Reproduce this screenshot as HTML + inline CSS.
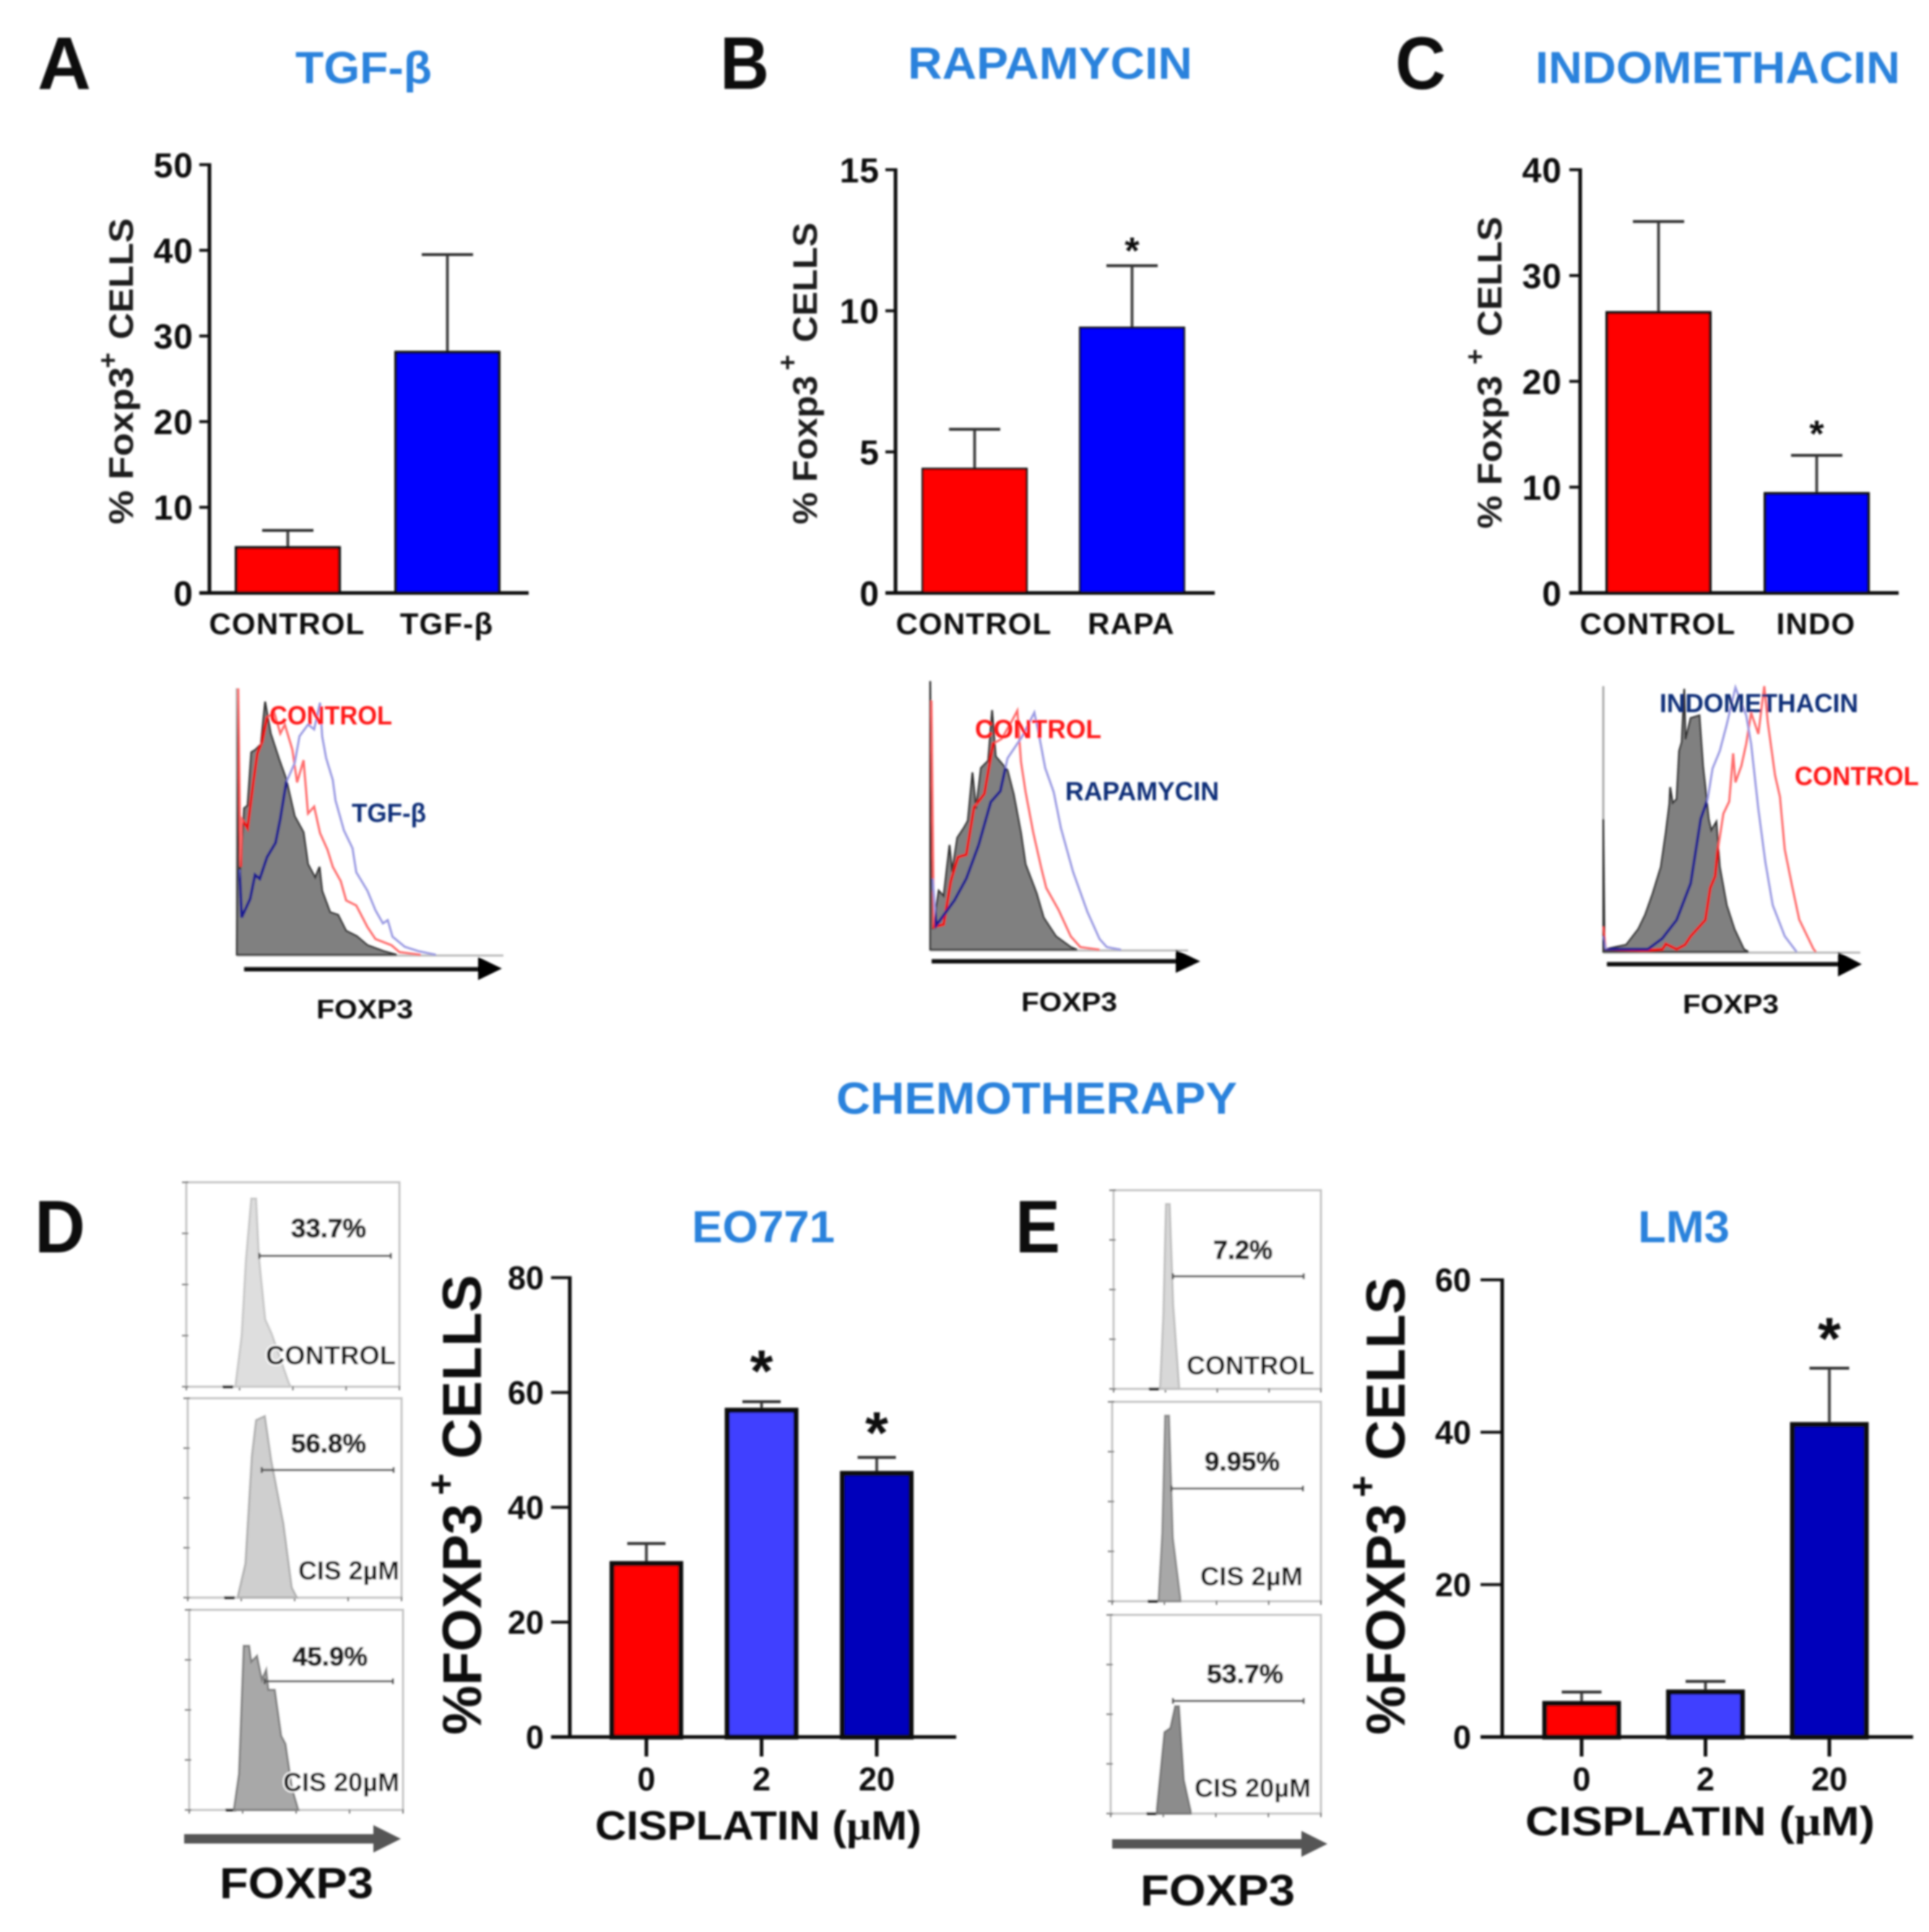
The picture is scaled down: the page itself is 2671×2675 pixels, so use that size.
<!DOCTYPE html>
<html lang="en">
<head>
<meta charset="utf-8">
<title>Foxp3 figure</title>
<style>
html,body{margin:0;padding:0;background:#fff;}
svg{display:block;}
text{font-family:"Liberation Sans",sans-serif;font-weight:bold;}
.title{fill:#2a82dc;font-size:62px;}
.letter{fill:#0a0a0a;font-size:103px;}
.ylab{fill:#1a1a1a;font-size:47px;}
.ylab2{fill:#0d0d0d;font-size:76px;}
.xtitle{fill:#111;font-size:57px;}
.foxs{fill:#111;font-size:37px;}
.foxb{fill:#111;font-size:60px;}
.histred{fill:#ff1818;font-size:36px;}
.histblue{fill:#0c2f78;font-size:36px;}
.pct{fill:#1c1c1c;font-size:36px;stroke:#1c1c1c;stroke-width:1px;}
.flow{fill:#111;font-size:36px;stroke:#fff;stroke-width:4px;paint-order:stroke;}
</style>
</head>
<body>
<svg xmlns="http://www.w3.org/2000/svg" width="2671" height="2675" viewBox="0 0 2671 2675">
<defs>
<filter id="soft" filterUnits="userSpaceOnUse" x="0" y="0" width="2671" height="2675"><feGaussianBlur stdDeviation="1.2"/></filter>
</defs>
<rect x="0" y="0" width="2671" height="2675" fill="#fff"/>
<g filter="url(#soft)">
<g id="marks"></g>

<text class="letter" x="52" y="123" textLength="74" lengthAdjust="spacingAndGlyphs">A</text>
<text class="letter" x="997" y="123" textLength="68" lengthAdjust="spacingAndGlyphs">B</text>
<text class="letter" x="1932" y="123" textLength="70" lengthAdjust="spacingAndGlyphs">C</text>
<text class="letter" x="48" y="1734" textLength="70" lengthAdjust="spacingAndGlyphs">D</text>
<text class="letter" x="1406" y="1734" textLength="62" lengthAdjust="spacingAndGlyphs">E</text>

<text class="title" x="409" y="115" textLength="189" lengthAdjust="spacingAndGlyphs">TGF-β</text>
<text class="title" x="1257" y="109" textLength="394" lengthAdjust="spacingAndGlyphs">RAPAMYCIN</text>
<text class="title" x="2126" y="115" textLength="505" lengthAdjust="spacingAndGlyphs">INDOMETHACIN</text>
<text class="title" x="1158" y="1542" textLength="555" lengthAdjust="spacingAndGlyphs">CHEMOTHERAPY</text>
<text class="title" x="958" y="1720" textLength="198" lengthAdjust="spacingAndGlyphs">EO771</text>
<text class="title" x="2268" y="1720" textLength="127" lengthAdjust="spacingAndGlyphs">LM3</text>

<text class="ylab" transform="translate(184,726) rotate(-90)" textLength="218" lengthAdjust="spacingAndGlyphs">% Foxp3</text>
<text class="ylab" transform="translate(162,499) rotate(-90)" text-anchor="middle" style="font-size:37px">+</text>
<text class="ylab" transform="translate(184,470) rotate(-90)" textLength="168" lengthAdjust="spacingAndGlyphs">CELLS</text>

<text class="ylab" transform="translate(1131,726) rotate(-90)" textLength="206" lengthAdjust="spacingAndGlyphs">% Foxp3</text>
<text class="ylab" transform="translate(1103,502) rotate(-90)" text-anchor="middle" style="font-size:37px">+</text>
<text class="ylab" transform="translate(1131,474) rotate(-90)" textLength="166" lengthAdjust="spacingAndGlyphs">CELLS</text>

<text class="ylab" transform="translate(2079,732) rotate(-90)" textLength="212" lengthAdjust="spacingAndGlyphs">% Foxp3</text>
<text class="ylab" transform="translate(2055,494) rotate(-90)" text-anchor="middle" style="font-size:37px">+</text>
<text class="ylab" transform="translate(2079,466) rotate(-90)" textLength="166" lengthAdjust="spacingAndGlyphs">CELLS</text>

<text class="ylab2" transform="translate(666,2402) rotate(-90)" textLength="320" lengthAdjust="spacingAndGlyphs">%FOXP3</text>
<text class="ylab2" transform="translate(628,2055) rotate(-90)" text-anchor="middle" style="font-size:52px">+</text>
<text class="ylab2" transform="translate(666,2020) rotate(-90)" textLength="255" lengthAdjust="spacingAndGlyphs">CELLS</text>

<text class="ylab2" transform="translate(1945,2402) rotate(-90)" textLength="320" lengthAdjust="spacingAndGlyphs">%FOXP3</text>
<text class="ylab2" transform="translate(1904,2058) rotate(-90)" text-anchor="middle" style="font-size:52px">+</text>
<text class="ylab2" transform="translate(1945,2022) rotate(-90)" textLength="254" lengthAdjust="spacingAndGlyphs">CELLS</text>

<text class="xtitle" x="824" y="2547" textLength="452" lengthAdjust="spacingAndGlyphs">CISPLATIN (<tspan font-family="Liberation Serif">μ</tspan>M)</text>
<text class="xtitle" x="2112" y="2541" textLength="484" lengthAdjust="spacingAndGlyphs">CISPLATIN (<tspan font-family="Liberation Serif">μ</tspan>M)</text>

<text class="histred" x="373" y="1003" textLength="170" lengthAdjust="spacingAndGlyphs">CONTROL</text>
<text class="histblue" x="487" y="1138" textLength="103" lengthAdjust="spacingAndGlyphs">TGF-β</text>
<text class="foxs" x="438" y="1410" textLength="134" lengthAdjust="spacingAndGlyphs">FOXP3</text>

<text class="histred" x="1350" y="1022" textLength="175" lengthAdjust="spacingAndGlyphs">CONTROL</text>
<text class="histblue" x="1475" y="1108" textLength="213" lengthAdjust="spacingAndGlyphs">RAPAMYCIN</text>
<text class="foxs" x="1414" y="1400" textLength="133" lengthAdjust="spacingAndGlyphs">FOXP3</text>

<text class="histblue" x="2298" y="986" textLength="275" lengthAdjust="spacingAndGlyphs">INDOMETHACIN</text>
<text class="histred" x="2485" y="1087" textLength="172" lengthAdjust="spacingAndGlyphs">CONTROL</text>
<text class="foxs" x="2330" y="1403" textLength="133" lengthAdjust="spacingAndGlyphs">FOXP3</text>

<g><line x1="338" y1="1342" x2="665" y2="1342" stroke="#111" stroke-width="6"/><polygon points="662,1325 695,1341 662,1357" fill="#000"/></g>
<g><line x1="1290" y1="1331" x2="1630" y2="1331" stroke="#111" stroke-width="6"/><polygon points="1628,1315 1662,1331 1628,1347" fill="#000"/></g>
<g><line x1="2225" y1="1335" x2="2548" y2="1335" stroke="#111" stroke-width="6"/><polygon points="2545,1318 2578,1335 2545,1352" fill="#000"/></g>
<g><line x1="255" y1="2546" x2="520" y2="2546" stroke="#555" stroke-width="13"/><polygon points="517,2527 555,2546 517,2565" fill="#555"/></g>
<g><line x1="1540" y1="2553" x2="1805" y2="2553" stroke="#555" stroke-width="13"/><polygon points="1802,2535 1838,2553 1802,2571" fill="#555"/></g>

<text class="pct" x="403" y="1713" textLength="104" lengthAdjust="spacingAndGlyphs">33.7%</text>
<text class="pct" x="403" y="2011" textLength="104" lengthAdjust="spacingAndGlyphs">56.8%</text>
<text class="pct" x="405" y="2306" textLength="104" lengthAdjust="spacingAndGlyphs">45.9%</text>
<text class="flow" x="368" y="1889" textLength="180" lengthAdjust="spacingAndGlyphs">CONTROL</text>
<text class="flow" x="413" y="2187" textLength="140" lengthAdjust="spacingAndGlyphs">CIS 2µM</text>
<text class="flow" x="392" y="2480" textLength="161" lengthAdjust="spacingAndGlyphs">CIS 20µM</text>
<text class="foxb" x="304" y="2628" textLength="213" lengthAdjust="spacingAndGlyphs">FOXP3</text>

<text class="pct" x="1680" y="1743" textLength="82" lengthAdjust="spacingAndGlyphs">7.2%</text>
<text class="pct" x="1668" y="2036" textLength="104" lengthAdjust="spacingAndGlyphs">9.95%</text>
<text class="pct" x="1671" y="2330" textLength="106" lengthAdjust="spacingAndGlyphs">53.7%</text>
<text class="flow" x="1643" y="1903" textLength="177" lengthAdjust="spacingAndGlyphs">CONTROL</text>
<text class="flow" x="1662" y="2195" textLength="142" lengthAdjust="spacingAndGlyphs">CIS 2µM</text>
<text class="flow" x="1654" y="2488" textLength="161" lengthAdjust="spacingAndGlyphs">CIS 20µM</text>
<text class="foxb" x="1579" y="2638" textLength="214" lengthAdjust="spacingAndGlyphs">FOXP3</text>
</g>
</svg>

<script>
/* ---------- bar chart data ---------- */
const panelACategories = ['CONTROL', 'TGF-β'];
const panelAValues = [5.3, 28.1];
const panelAUpper = [7.3, 39.5];
const panelATicks = [0, 10, 20, 30, 40, 50];
const panelAStars = ['', ''];

const panelBCategories = ['CONTROL', 'RAPA'];
const panelBValues = [4.4, 9.4];
const panelBUpper = [5.8, 11.6];
const panelBTicks = [0, 5, 10, 15];
const panelBStars = ['', '*'];

const panelCCategories = ['CONTROL', 'INDO'];
const panelCValues = [26.5, 9.4];
const panelCUpper = [35.1, 13];
const panelCTicks = [0, 10, 20, 30, 40];
const panelCStars = ['', '*'];

const panelDCategories = ['0', '2', '20'];
const panelDValues = [30.2, 56.9, 45.9];
const panelDUpper = [33.7, 58.4, 48.7];
const panelDTicks = [0, 20, 40, 60, 80];
const panelDStars = ['', '*', '*'];

const panelECategories = ['0', '2', '20'];
const panelEValues = [4.4, 5.9, 41];
const panelEUpper = [5.9, 7.3, 48.4];
const panelETicks = [0, 20, 40, 60];
const panelEStars = ['', '', '*'];

/* ---------- overlay histogram data (channel 0-100, count 0-100) ---------- */
const histAGrayX = [0,0.5,1,2.7,4,5.4,7,9,10.6,12.7,16,18.5,21.7,25,26.7,29.4,31,32,35,38,41,45,49,55,60];
const histAGrayY = [0,100,28,55,56,76,77,79,95,83,73,66,52,46,34,29,33,24,16,15,9,7,3.6,1.4,0];
const histARedX = [0.5,1.4,1.8,4,6.3,7.7,9.5,11.3,14,16.3,18,20.8,22.6,25,26.7,29,31.2,34,36,39,41,44.8,49,52,58,61,69];
const histARedY = [100,33,51,47.5,65.6,75.6,80,89,91,83,86.4,77,64.7,73,53,55.6,45.7,39.4,33,27.6,20.4,18.5,10.4,5.9,3.6,1,0];
const histABlueX = [1,1.8,5,6.8,8.6,11.3,14.5,16.3,18.5,21.7,23.5,26.7,29,31.2,32,33.5,36,37,40.2,43.4,44.8,49,52,54.8,56.6,58.4,63,68,74.7];
const histABlueY = [32,14,21,30,28.5,36.6,42,51,64.7,72,82,86.4,84.6,94.6,82,73.8,65.6,58,46.6,40,31,24,16.7,11.8,13,6.8,3,1.4,0];

const histBGrayX = [0,1,3.3,5.2,7.5,8.5,10.5,13,14.6,16.4,17.8,19.7,22.5,24,25.4,30,32.4,35.2,37,41.3,44,48.8,54.5,57];
const histBGrayY = [100,7.6,22,20,39,29,41.7,45.3,48,66,52.5,67.7,70.4,89.2,72,66.8,57.8,43.5,31.8,21,12,5,1,0];
const histBRedX = [0.5,1.4,5.2,8,10.8,14,17,21,24.4,27.7,32,33.8,35.2,37,40,43.2,45,49.8,54.5,58.2,65.7];
const histBRedY = [92.8,8.5,9.4,25.6,34.5,35.4,53,58,76.7,78.5,85.7,89,70,58.7,43.5,30,23,14.8,5,1,0];
const histBBlueX = [1,2.3,9.4,14,18.8,23.5,27.2,30,35.7,40.4,42.3,44.6,47.9,50.7,55.4,61,65.7,68.5,74];
const histBBlueY = [26.5,9,18.4,26.5,39,55,59,71.3,79.4,88.3,79.4,67.7,58.7,45.3,29,14,4,1,0];

const histCGrayX = [0,0.5,8.9,13.6,16.3,19.2,22.4,24.3,25.7,26,27,28.5,29.5,30.5,31.5,32,34,37.4,38.8,41,42,44,45.3,48,51,54.7,56.5];
const histCGrayY = [50,1,2.7,8.6,14,22,32,44.8,55.7,62,56,57.5,75.6,79,99,80,88,89,70,50,45.7,49,32,17.6,8.6,1,0];
const histCRedX = [0,1,16.4,23,24.3,28.5,31.8,34,39.7,41.6,43.5,44.4,46.7,49,50.5,51.4,53.7,55.6,57.5,60.3,62.6,64,66.8,68.7,70.6,73.4,76.2,81.8,82.7];
const histCRedY = [9.5,1,0.5,1,3,1,2.7,5.9,12,24,28.5,37.5,52,56.6,74.7,63.8,70,78.3,90,82,100,86.4,66.5,58.4,38.5,25,12.2,1,0];
const histCBlueX = [0,1,17.3,22.9,28.5,34,37.9,40.6,42.5,45.3,48,51.4,55.6,57.5,60.3,63,65.9,70.6,75.2];
const histCBlueY = [5.9,1,1,5,12,25.8,50,57.5,69,75.6,85.5,99.5,89,78.3,53.8,34,17.6,5.9,0];

/* ---------- flow panel data (channel %, count %, gate channel %) ---------- */
const flowD1X = [23,26,28,30.5,32.7,34,37,40,48,49];
const flowD1Y = [0,25,62,92,92,64,33,26,2,0];
const flowD2X = [23.5,27,30,32,36,39,44.7,48.6,51];
const flowD2Y = [1,17,71,89,91,69,37,5,0];
const flowD3X = [21,23.3,25.5,28,29,31.7,34,36,37,40,43,45,48,51];
const flowD3Y = [1,18,82,82,74,77,65,70,60,60,37,33,11,0];
const flowE1X = [22.4,24,25.3,27,28.7,31.6];
const flowE1Y = [0.5,37,93,93,42,0.5];
const flowE2X = [22.3,24,25.4,27.2,29,32.6];
const flowE2Y = [1.7,34,93,93,32,1.7];
const flowE3X = [22,25.6,28.4,30.7,32.4,34.7,38];
const flowE3Y = [2.4,41,43,54,54,17,1.2];
const flowGateD1 = [34.3, 96, 64];
const flowGateD2 = [34.6, 96.3, 64];
const flowGateD3 = [35.3, 95.3, 64.3];
const flowGateE1 = [28.6, 91.7, 56.7];
const flowGateE2 = [28.4, 91.4, 56.5];
const flowGateE3 = [29.6, 91.8, 56.7];
const flowMajorTicks = [0, 25, 50, 75, 100];

/* ---------- drawing ---------- */
const NS = 'http://www.w3.org/2000/svg';
const marks = document.getElementById('marks');
let clipCount = 0;

function mk(parent, tag, attrs, name) {
  const el = document.createElementNS(NS, tag);
  for (const k in attrs) el.setAttribute(k, attrs[k]);
  
  
  parent.appendChild(el);
  return el;
}

function drawBars(id, cats, vals, upper, ticks, stars, colors, o) {
  const g = mk(marks, 'g', {}, 'bar-chart-' + id);
  const max = Math.max.apply(null, ticks);
  const yScale = v => o.base - (v / max) * (o.base - o.top);
  const xScale = i => o.cx0 + i * o.step;
  const half = o.capW / 2;

  vals.forEach((v, i) => {
    const cx = xScale(i);
    mk(g, 'line', {x1: cx, x2: cx, y1: yScale(v), y2: yScale(upper[i]), stroke: '#444', 'stroke-width': o.errW}, 'error-stem-' + id + '-' + i);
    mk(g, 'line', {x1: cx - half, x2: cx + half, y1: yScale(upper[i]), y2: yScale(upper[i]), stroke: '#333', 'stroke-width': o.errW}, 'error-cap-' + id + '-' + i);
    mk(g, 'rect', {x: cx - o.barW / 2, y: yScale(v), width: o.barW, height: o.base - yScale(v), fill: colors[i], stroke: '#0a0a0a', 'stroke-width': o.barStroke}, 'bar-' + id + '-' + i);
    if (stars[i]) {
      const gap = o.starGaps ? o.starGaps[i] : o.starGap;
      const s = mk(g, 'text', {x: cx, y: yScale(upper[i]) - gap + 0.56 * o.starSize, 'text-anchor': 'middle', fill: '#111', style: 'font-size:' + o.starSize + 'px'}, 'significance-star-' + id + '-' + i);
      s.textContent = stars[i];
    }
  });

  mk(g, 'line', {x1: o.axisX, x2: o.axisX, y1: o.top - 2, y2: o.base + 2.5, stroke: '#111', 'stroke-width': 5}, 'y-axis-' + id);
  mk(g, 'line', {x1: o.axisX - o.tick, x2: o.xEnd, y1: o.base, y2: o.base, stroke: '#111', 'stroke-width': 5}, 'x-axis-' + id);

  ticks.forEach(t => {
    mk(g, 'line', {x1: o.axisX - o.tick, x2: o.axisX, y1: yScale(t), y2: yScale(t), stroke: '#111', 'stroke-width': 4}, 'y-tick-' + id + '-' + t);
    const lab = mk(g, 'text', {x: o.labelX, y: yScale(t) + 0.36 * o.tickSize, 'text-anchor': 'end', fill: '#111', style: 'font-size:' + o.tickSize + 'px;letter-spacing:' + (o.tickSpace || 0) + 'px'}, 'y-tick-label-' + id + '-' + t);
    lab.textContent = t;
  });

  cats.forEach((c, i) => {
    const cx = xScale(i);
    if (o.xTick) {
      mk(g, 'line', {x1: cx, x2: cx, y1: o.base, y2: o.base + o.xTick, stroke: '#111', 'stroke-width': 5}, 'x-tick-' + id + '-' + i);
    }
    const lab = mk(g, 'text', {x: cx + (o.catShift || 0), y: o.catY, 'text-anchor': 'middle', fill: '#111', style: 'font-size:' + o.catSize + 'px;letter-spacing:' + o.catSpace + 'px'}, 'x-category-label-' + id + '-' + i);
    lab.textContent = c;
  });
}

function polyPoints(xs, ys, xScale, yScale) {
  return xs.map((x, i) => xScale(x).toFixed(1) + ',' + yScale(ys[i]).toFixed(1)).join(' ');
}

function drawOverlay(id, gx, gy, rx, ry, bx, by, o) {
  const g = mk(marks, 'g', {}, 'overlay-histogram-' + id);
  const xScale = v => o.x0 + (v / 100) * (o.x1 - o.x0);
  const yScale = v => o.base - (v / 100) * (o.base - o.top);
  mk(g, 'line', {x1: o.x0, x2: o.x1, y1: o.base + 1, y2: o.base + 1, stroke: '#bbb', 'stroke-width': 3}, 'hist-baseline-' + id);
  mk(g, 'line', {x1: o.x0, x2: o.x0, y1: o.top, y2: o.base, stroke: '#aaa', 'stroke-width': 3}, 'hist-y-axis-' + id);
  const fillPts = xScale(gx[0]) + ',' + o.base + ' ' + polyPoints(gx, gy, xScale, yScale) + ' ' + xScale(gx[gx.length - 1]) + ',' + o.base;
  mk(g, 'polygon', {points: fillPts, fill: '#808080', stroke: '#333', 'stroke-width': 2.5}, 'hist-isotype-fill-' + id);
  const red = polyPoints(rx, ry, xScale, yScale);
  const blue = polyPoints(bx, by, xScale, yScale);
  mk(g, 'polyline', {points: red, fill: 'none', stroke: '#ff6a6a', 'stroke-width': 3}, 'hist-control-line-' + id);
  mk(g, 'polyline', {points: blue, fill: 'none', stroke: '#9a9ae2', 'stroke-width': 3}, 'hist-treated-line-' + id);
  const cid = 'clip' + (++clipCount);
  const defs = mk(g, 'clipPath', {id: cid}, 'hist-clip-' + id);
  mk(defs, 'polygon', {points: fillPts}, 'hist-clip-shape-' + id);
  const over = mk(g, 'g', {'clip-path': 'url(#' + cid + ')'}, 'hist-inner-lines-' + id);
  mk(over, 'polyline', {points: red, fill: 'none', stroke: '#ee0808', 'stroke-width': 4}, 'hist-control-inner-' + id);
  mk(over, 'polyline', {points: blue, fill: 'none', stroke: '#1a1a90', 'stroke-width': 4}, 'hist-treated-inner-' + id);
}

function drawFlow(id, xs, ys, gate, fill, line, o) {
  const g = mk(marks, 'g', {}, 'flow-panel-' + id);
  const xScale = v => o.x0 + (v / 100) * (o.x1 - o.x0);
  const yScale = v => o.base - (v / 100) * (o.base - o.top);
  mk(g, 'rect', {x: o.x0, y: o.top, width: o.x1 - o.x0, height: o.base - o.top, fill: '#fff', stroke: '#c4c4c4', 'stroke-width': 3}, 'flow-frame-' + id);
  flowMajorTicks.forEach(t => {
    mk(g, 'line', {x1: o.x0 - 6, x2: o.x0 + 3, y1: yScale(t), y2: yScale(t), stroke: '#777', 'stroke-width': 2}, 'flow-y-tick-' + id + '-' + t);
    mk(g, 'line', {x1: xScale(t), x2: xScale(t), y1: o.base - 1, y2: o.base + 5, stroke: '#777', 'stroke-width': 2}, 'flow-x-tick-' + id + '-' + t);
  });
  mk(g, 'line', {x1: xScale(17), x2: xScale(22), y1: o.base, y2: o.base, stroke: '#222', 'stroke-width': 4}, 'flow-zero-mark-' + id);
  const pts = xScale(xs[0]) + ',' + o.base + ' ' + polyPoints(xs, ys, xScale, yScale) + ' ' + xScale(xs[xs.length - 1]) + ',' + o.base;
  mk(g, 'polygon', {points: pts, fill: fill, stroke: line, 'stroke-width': 3}, 'flow-histogram-' + id);
  mk(g, 'line', {x1: xScale(gate[0]), x2: xScale(gate[1]), y1: yScale(gate[2]), y2: yScale(gate[2]), stroke: '#555', 'stroke-width': 3}, 'flow-gate-' + id);
  [gate[0], gate[1]].forEach((v, i) => {
    mk(g, 'line', {x1: xScale(v), x2: xScale(v), y1: yScale(gate[2]) - 4, y2: yScale(gate[2]) + 4, stroke: '#555', 'stroke-width': 3}, 'flow-gate-end-' + id + '-' + i);
  });
}

const RED = '#ff0000', BLUE = '#0000ff', MID = '#4040ff', DARK = '#0000bb';

drawBars('a', panelACategories, panelAValues, panelAUpper, panelATicks, panelAStars, [RED, BLUE],
  {axisX: 290, top: 228, base: 821, xEnd: 732, tick: 14, cx0: 398.5, step: 221, barW: 143, barStroke: 4, capW: 71, errW: 4, labelX: 268, tickSize: 48, tickSpace: 1, catY: 878, catSize: 42, catSpace: 1.2, catShift: -1, starSize: 52, starGap: 30});
drawBars('b', panelBCategories, panelBValues, panelBUpper, panelBTicks, panelBStars, [RED, BLUE],
  {axisX: 1240, top: 235, base: 821, xEnd: 1682, tick: 14, cx0: 1349.5, step: 218, barW: 144, barStroke: 3, capW: 71, errW: 4, labelX: 1218, tickSize: 48, tickSpace: 1, catY: 878, catSize: 42, catSpace: 1.2, catShift: -1, starSize: 52, starGap: 32});
drawBars('c', panelCCategories, panelCValues, panelCUpper, panelCTicks, panelCStars, [RED, BLUE],
  {axisX: 2188, top: 235, base: 821, xEnd: 2629, tick: 15, cx0: 2296.5, step: 219, barW: 143, barStroke: 4, capW: 71, errW: 4, labelX: 2163, tickSize: 48, tickSpace: 1, catY: 878, catSize: 42, catSpace: 1.2, catShift: -1, starSize: 52, starGap: 41});
drawBars('d', panelDCategories, panelDValues, panelDUpper, panelDTicks, panelDStars, [RED, MID, DARK],
  {axisX: 789, top: 1769, base: 2405, xEnd: 1324, tick: 26, cx0: 895, step: 159.5, barW: 95, barStroke: 7, capW: 53, errW: 4, labelX: 753, tickSize: 45, catY: 2479, catSize: 45, catSpace: 0, xTick: 27, starSize: 82, starGaps: [0, 60, 52]});
drawBars('e', panelECategories, panelEValues, panelEUpper, panelETicks, panelEStars, [RED, MID, DARK],
  {axisX: 2080, top: 1772, base: 2405, xEnd: 2649, tick: 30, cx0: 2190, step: 171.5, barW: 102, barStroke: 7, capW: 55, errW: 4, labelX: 2037, tickSize: 45, catY: 2479, catSize: 45, catSpace: 0, xTick: 27, starSize: 82, starGaps: [0, 0, 59]});

drawOverlay('a', histAGrayX, histAGrayY, histARedX, histARedY, histABlueX, histABlueY, {x0: 328, x1: 697, base: 1322, top: 953});
drawOverlay('b', histBGrayX, histBGrayY, histBRedX, histBRedY, histBBlueX, histBBlueY, {x0: 1288, x1: 1645, base: 1315, top: 943});
drawOverlay('c', histCGrayX, histCGrayY, histCRedX, histCRedY, histCBlueX, histCBlueY, {x0: 2220, x1: 2576, base: 1318, top: 950});

drawFlow('d-control', flowD1X, flowD1Y, flowGateD1, '#dedede', '#c8c8c8', {x0: 258, x1: 553, top: 1637, base: 1920});
drawFlow('d-cis2', flowD2X, flowD2Y, flowGateD2, '#cfcfcf', '#b0b0b0', {x0: 260, x1: 556, top: 1936, base: 2212});
drawFlow('d-cis20', flowD3X, flowD3Y, flowGateD3, '#a8a8a8', '#808080', {x0: 262, x1: 558, top: 2229, base: 2506});
drawFlow('e-control', flowE1X, flowE1Y, flowGateE1, '#d8d8d8', '#c0c0c0', {x0: 1542, x1: 1829, top: 1648, base: 1923});
drawFlow('e-cis2', flowE2X, flowE2Y, flowGateE2, '#a8a8a8', '#8a8a8a', {x0: 1540, x1: 1829, top: 1941, base: 2217});
drawFlow('e-cis20', flowE3X, flowE3Y, flowGateE3, '#8c8c8c', '#777', {x0: 1538, x1: 1829, top: 2236, base: 2511});
</script>
</body>
</html>
